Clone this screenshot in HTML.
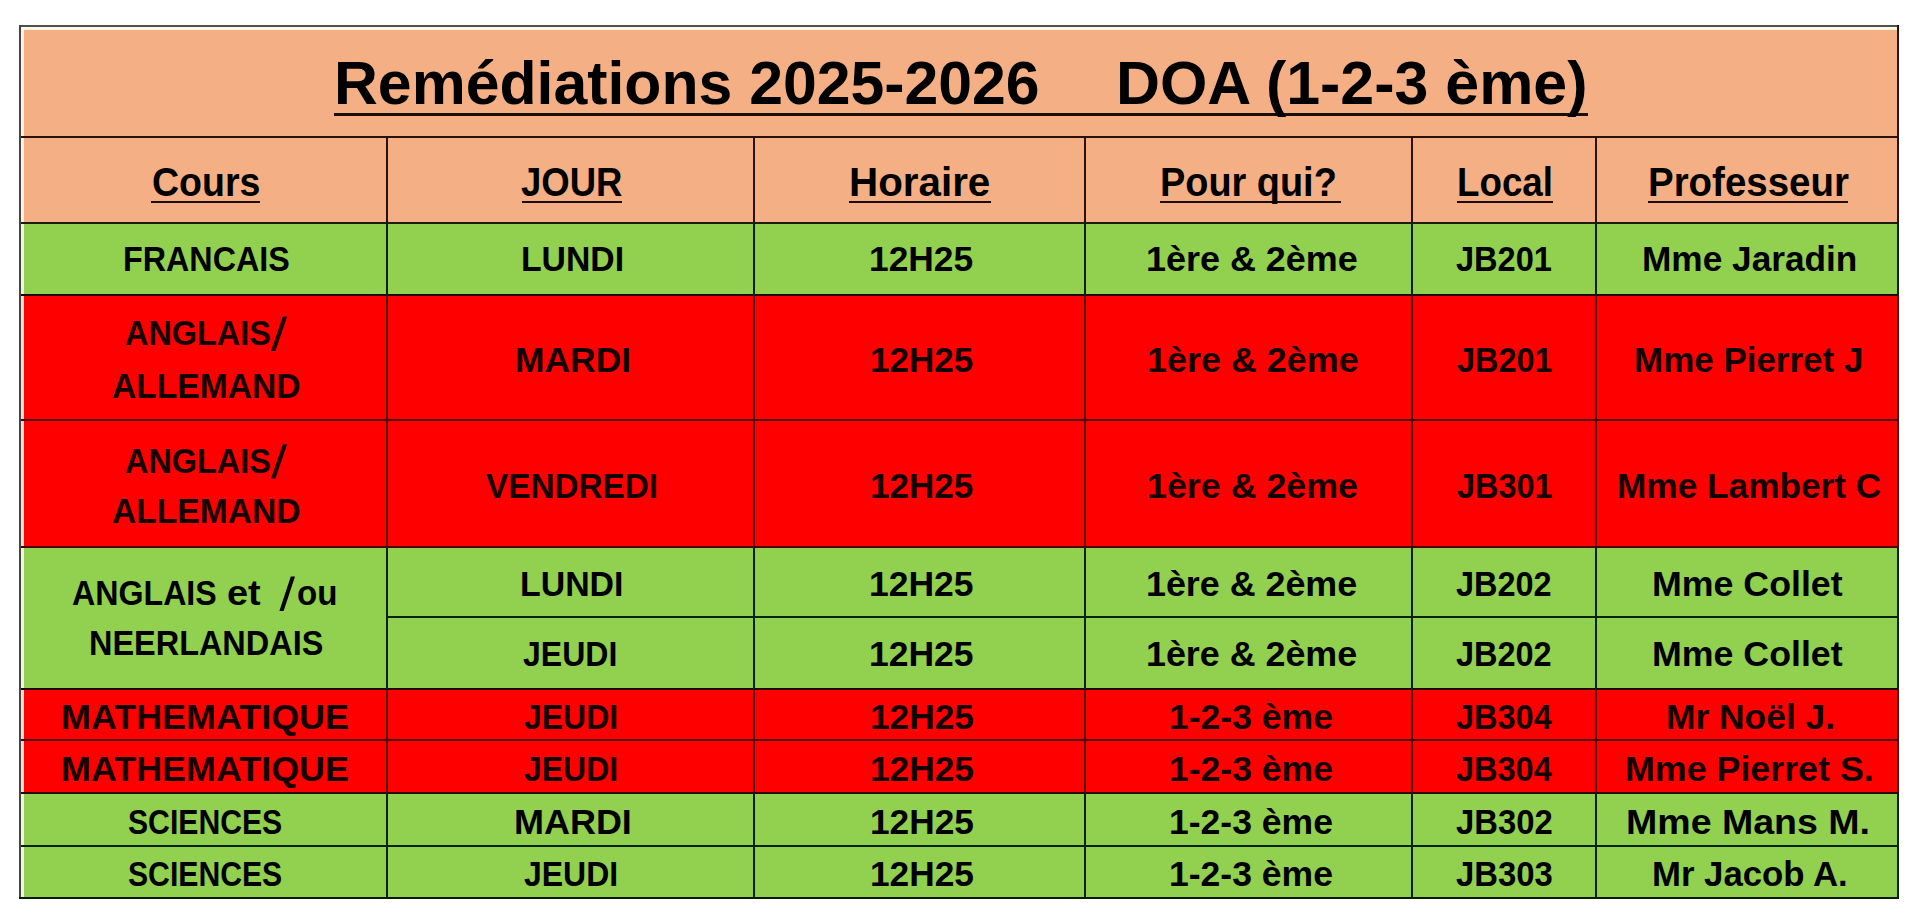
<!DOCTYPE html>
<html lang="fr"><head><meta charset="utf-8"><title>Remédiations 2025-2026 DOA</title>
<style>
html,body{margin:0;padding:0;background:#fff;width:1920px;height:920px;overflow:hidden}
.r{position:absolute}
.t{position:absolute;white-space:pre;line-height:1;font-family:"Liberation Sans",sans-serif;font-weight:bold;color:#000;transform-origin:0 0}
#wrap{position:absolute;left:0;top:0;width:1920px;height:920px;background:#fff;}
</style></head><body><div id="wrap">
<div class="r" style="left:20.00px;top:26.00px;width:1878.00px;height:111.00px;background:#F4B084"></div>
<div class="r" style="left:20.00px;top:137.00px;width:1878.00px;height:85.50px;background:#F4B084"></div>
<div class="r" style="left:20.00px;top:222.50px;width:1878.00px;height:72.00px;background:#92D050"></div>
<div class="r" style="left:20.00px;top:294.50px;width:1878.00px;height:125.50px;background:#FF0000"></div>
<div class="r" style="left:20.00px;top:420.00px;width:1878.00px;height:127.00px;background:#FF0000"></div>
<div class="r" style="left:20.00px;top:547.00px;width:1878.00px;height:141.50px;background:#92D050"></div>
<div class="r" style="left:20.00px;top:688.50px;width:1878.00px;height:51.50px;background:#FF0000"></div>
<div class="r" style="left:20.00px;top:740.00px;width:1878.00px;height:53.00px;background:#FF0000"></div>
<div class="r" style="left:20.00px;top:793.00px;width:1878.00px;height:52.50px;background:#92D050"></div>
<div class="r" style="left:20.00px;top:845.50px;width:1878.00px;height:52.00px;background:#92D050"></div>
<div class="r" style="left:21.00px;top:27.00px;width:1876.00px;height:2.60px;background:#FFF6E6"></div>
<div class="r" style="left:21.00px;top:27.00px;width:2.50px;height:869.50px;background:rgba(255,255,235,0.85)"></div>
<div class="r" style="left:20.00px;top:136.00px;width:1878.00px;height:2.00px;background:#2a1206"></div>
<div class="r" style="left:20.00px;top:221.50px;width:1878.00px;height:2.00px;background:#1a2008"></div>
<div class="r" style="left:20.00px;top:293.50px;width:1878.00px;height:2.00px;background:#200000"></div>
<div class="r" style="left:20.00px;top:419.00px;width:1878.00px;height:2.00px;background:#500000"></div>
<div class="r" style="left:20.00px;top:546.00px;width:1878.00px;height:2.00px;background:#4a0000"></div>
<div class="r" style="left:20.00px;top:687.50px;width:1878.00px;height:2.00px;background:#200000"></div>
<div class="r" style="left:20.00px;top:739.00px;width:1878.00px;height:2.00px;background:#500000"></div>
<div class="r" style="left:20.00px;top:792.00px;width:1878.00px;height:2.00px;background:#2a0800"></div>
<div class="r" style="left:20.00px;top:844.50px;width:1878.00px;height:2.00px;background:#0a2400"></div>
<div class="r" style="left:386.70px;top:616.00px;width:1511.30px;height:2.00px;background:#0a2400"></div>
<div class="r" style="left:385.70px;top:137.00px;width:2.00px;height:85.50px;background:#2a1206"></div>
<div class="r" style="left:385.70px;top:222.50px;width:2.00px;height:72.00px;background:#0a2400"></div>
<div class="r" style="left:385.70px;top:294.50px;width:2.00px;height:252.50px;background:#500000"></div>
<div class="r" style="left:385.70px;top:547.00px;width:2.00px;height:141.50px;background:#0a2400"></div>
<div class="r" style="left:385.70px;top:688.50px;width:2.00px;height:104.50px;background:#500000"></div>
<div class="r" style="left:385.70px;top:793.00px;width:2.00px;height:104.50px;background:#0a2400"></div>
<div class="r" style="left:752.50px;top:137.00px;width:2.00px;height:85.50px;background:#2a1206"></div>
<div class="r" style="left:752.50px;top:222.50px;width:2.00px;height:72.00px;background:#0a2400"></div>
<div class="r" style="left:752.50px;top:294.50px;width:2.00px;height:252.50px;background:#500000"></div>
<div class="r" style="left:752.50px;top:547.00px;width:2.00px;height:141.50px;background:#0a2400"></div>
<div class="r" style="left:752.50px;top:688.50px;width:2.00px;height:104.50px;background:#500000"></div>
<div class="r" style="left:752.50px;top:793.00px;width:2.00px;height:104.50px;background:#0a2400"></div>
<div class="r" style="left:1083.60px;top:137.00px;width:2.00px;height:85.50px;background:#2a1206"></div>
<div class="r" style="left:1083.60px;top:222.50px;width:2.00px;height:72.00px;background:#0a2400"></div>
<div class="r" style="left:1083.60px;top:294.50px;width:2.00px;height:252.50px;background:#500000"></div>
<div class="r" style="left:1083.60px;top:547.00px;width:2.00px;height:141.50px;background:#0a2400"></div>
<div class="r" style="left:1083.60px;top:688.50px;width:2.00px;height:104.50px;background:#500000"></div>
<div class="r" style="left:1083.60px;top:793.00px;width:2.00px;height:104.50px;background:#0a2400"></div>
<div class="r" style="left:1410.60px;top:137.00px;width:2.00px;height:85.50px;background:#2a1206"></div>
<div class="r" style="left:1410.60px;top:222.50px;width:2.00px;height:72.00px;background:#0a2400"></div>
<div class="r" style="left:1410.60px;top:294.50px;width:2.00px;height:252.50px;background:#500000"></div>
<div class="r" style="left:1410.60px;top:547.00px;width:2.00px;height:141.50px;background:#0a2400"></div>
<div class="r" style="left:1410.60px;top:688.50px;width:2.00px;height:104.50px;background:#500000"></div>
<div class="r" style="left:1410.60px;top:793.00px;width:2.00px;height:104.50px;background:#0a2400"></div>
<div class="r" style="left:1595.00px;top:137.00px;width:2.00px;height:85.50px;background:#2a1206"></div>
<div class="r" style="left:1595.00px;top:222.50px;width:2.00px;height:72.00px;background:#0a2400"></div>
<div class="r" style="left:1595.00px;top:294.50px;width:2.00px;height:252.50px;background:#500000"></div>
<div class="r" style="left:1595.00px;top:547.00px;width:2.00px;height:141.50px;background:#0a2400"></div>
<div class="r" style="left:1595.00px;top:688.50px;width:2.00px;height:104.50px;background:#500000"></div>
<div class="r" style="left:1595.00px;top:793.00px;width:2.00px;height:104.50px;background:#0a2400"></div>
<div class="r" style="left:19.00px;top:25.00px;width:1880.00px;height:2.00px;background:#505050"></div>
<div class="r" style="left:19.00px;top:25.00px;width:2.00px;height:873.50px;background:#454545"></div>
<div class="r" style="left:1897.00px;top:137.00px;width:2.00px;height:85.50px;background:#2a1206"></div>
<div class="r" style="left:1897.00px;top:222.50px;width:2.00px;height:72.00px;background:#0a2400"></div>
<div class="r" style="left:1897.00px;top:294.50px;width:2.00px;height:252.50px;background:#500000"></div>
<div class="r" style="left:1897.00px;top:547.00px;width:2.00px;height:141.50px;background:#0a2400"></div>
<div class="r" style="left:1897.00px;top:688.50px;width:2.00px;height:104.50px;background:#500000"></div>
<div class="r" style="left:1897.00px;top:793.00px;width:2.00px;height:104.50px;background:#0a2400"></div>
<div class="r" style="left:1897.00px;top:25.00px;width:2.00px;height:112.00px;background:#2a1206"></div>
<div class="r" style="left:19.00px;top:896.50px;width:1880.00px;height:2.00px;background:#0a1a00"></div>
<div class="r" style="left:333.70px;top:113.30px;width:1254.30px;height:3.20px;background:#1a0e05"></div>
<div class="r" style="left:151.30px;top:201.10px;width:108.30px;height:1.80px;background:#1a0e05"></div>
<div class="r" style="left:521.90px;top:201.10px;width:100.30px;height:1.80px;background:#1a0e05"></div>
<div class="r" style="left:849.00px;top:201.10px;width:141.80px;height:1.80px;background:#1a0e05"></div>
<div class="r" style="left:1159.90px;top:201.10px;width:181.10px;height:1.80px;background:#1a0e05"></div>
<div class="r" style="left:1456.80px;top:201.10px;width:95.90px;height:1.80px;background:#1a0e05"></div>
<div class="r" style="left:1648.00px;top:201.10px;width:200.00px;height:1.80px;background:#1a0e05"></div>
<svg class="r" style="left:0;top:0" width="1920" height="920" viewBox="0 0 1920 920"><polygon points="271.0,351.1 275.4,351.1 287.2,316.4 282.8,316.4" fill="#1a0000"/><polygon points="271.0,478.6 275.4,478.6 287.2,444.3 282.8,444.3" fill="#1a0000"/><polygon points="279.4,611.0 283.6,611.0 295.0,576.6 290.8,576.6" fill="#000"/></svg>
<span class="t" style="left:334.08px;top:51.50px;font-size:62.0px;transform:scaleX(0.9797)">Remédiations 2025-2026</span>
<span class="t" style="left:1115.57px;top:51.50px;font-size:62.0px;transform:scaleX(0.9820)">DOA (1-2-3 ème)</span>
<span class="t" style="left:151.67px;top:162.00px;font-size:41.1px;transform:scaleX(0.9130)">Cours</span>
<span class="t" style="left:521.01px;top:162.00px;font-size:41.1px;transform:scaleX(0.8884)">JOUR</span>
<span class="t" style="left:848.75px;top:162.00px;font-size:41.1px;transform:scaleX(0.9821)">Horaire</span>
<span class="t" style="left:1159.73px;top:162.00px;font-size:41.1px;transform:scaleX(0.9219)">Pour qui?</span>
<span class="t" style="left:1456.62px;top:162.00px;font-size:41.1px;transform:scaleX(0.8941)">Local</span>
<span class="t" style="left:1647.79px;top:162.00px;font-size:41.1px;transform:scaleX(0.9355)">Professeur</span>
<span class="t" style="left:122.54px;top:242.40px;font-size:34.7px;transform:scaleX(0.9307)">FRANCAIS</span>
<span class="t" style="left:520.75px;top:242.40px;font-size:34.7px;transform:scaleX(0.9725)">LUNDI</span>
<span class="t" style="left:869.46px;top:242.40px;font-size:34.7px;transform:scaleX(1.0182)">12H25</span>
<span class="t" style="left:1146.03px;top:242.40px;font-size:34.7px;transform:scaleX(1.0358)">1ère &amp; 2ème</span>
<span class="t" style="left:1455.96px;top:242.40px;font-size:34.7px;transform:scaleX(0.9380)">JB201</span>
<span class="t" style="left:1641.72px;top:242.40px;font-size:34.7px;transform:scaleX(1.0156)">Mme Jaradin</span>
<span class="t" style="left:124.77px;top:316.00px;font-size:34.7px;transform:scaleX(0.9344);color:#140000">ANGLAIS</span>
<span class="t" style="left:112.13px;top:368.50px;font-size:34.7px;transform:scaleX(0.9693);color:#140000">ALLEMAND</span>
<span class="t" style="left:514.76px;top:343.00px;font-size:34.7px;transform:scaleX(1.0211);color:#140000">MARDI</span>
<span class="t" style="left:870.28px;top:343.00px;font-size:34.7px;transform:scaleX(1.0101);color:#140000">12H25</span>
<span class="t" style="left:1146.68px;top:343.00px;font-size:34.7px;transform:scaleX(1.0356);color:#140000">1ère &amp; 2ème</span>
<span class="t" style="left:1456.67px;top:343.00px;font-size:34.7px;transform:scaleX(0.9340);color:#140000">JB201</span>
<span class="t" style="left:1634.18px;top:343.00px;font-size:34.7px;transform:scaleX(1.0081);color:#140000">Mme Pierret J</span>
<span class="t" style="left:124.77px;top:443.70px;font-size:34.7px;transform:scaleX(0.9344);color:#140000">ANGLAIS</span>
<span class="t" style="left:112.13px;top:493.90px;font-size:34.7px;transform:scaleX(0.9693);color:#140000">ALLEMAND</span>
<span class="t" style="left:486.10px;top:469.00px;font-size:34.7px;transform:scaleX(0.9599);color:#140000">VENDREDI</span>
<span class="t" style="left:870.28px;top:469.00px;font-size:34.7px;transform:scaleX(1.0101);color:#140000">12H25</span>
<span class="t" style="left:1146.69px;top:469.00px;font-size:34.7px;transform:scaleX(1.0323);color:#140000">1ère &amp; 2ème</span>
<span class="t" style="left:1456.67px;top:469.00px;font-size:34.7px;transform:scaleX(0.9340);color:#140000">JB301</span>
<span class="t" style="left:1616.72px;top:469.00px;font-size:34.7px;transform:scaleX(1.0154);color:#140000">Mme Lambert C</span>
<span class="t" style="left:71.87px;top:575.60px;font-size:34.7px;transform:scaleX(0.9273)">ANGLAIS</span>
<span class="t" style="left:227.31px;top:575.60px;font-size:34.7px;transform:scaleX(1.0931)">et</span>
<span class="t" style="left:296.85px;top:575.60px;font-size:34.7px;transform:scaleX(0.9538)">ou</span>
<span class="t" style="left:89.13px;top:626.20px;font-size:34.7px;transform:scaleX(0.9352)">NEERLANDAIS</span>
<span class="t" style="left:520.35px;top:567.40px;font-size:34.7px;transform:scaleX(0.9765)">LUNDI</span>
<span class="t" style="left:869.16px;top:567.40px;font-size:34.7px;transform:scaleX(1.0222)">12H25</span>
<span class="t" style="left:1145.93px;top:567.40px;font-size:34.7px;transform:scaleX(1.0328)">1ère &amp; 2ème</span>
<span class="t" style="left:1456.36px;top:567.40px;font-size:34.7px;transform:scaleX(0.9360)">JB202</span>
<span class="t" style="left:1651.64px;top:567.40px;font-size:34.7px;transform:scaleX(1.0301)">Mme Collet</span>
<span class="t" style="left:523.28px;top:636.70px;font-size:34.7px;transform:scaleX(0.9232)">JEUDI</span>
<span class="t" style="left:869.16px;top:636.70px;font-size:34.7px;transform:scaleX(1.0222)">12H25</span>
<span class="t" style="left:1145.93px;top:636.70px;font-size:34.7px;transform:scaleX(1.0328)">1ère &amp; 2ème</span>
<span class="t" style="left:1456.36px;top:636.70px;font-size:34.7px;transform:scaleX(0.9360)">JB202</span>
<span class="t" style="left:1651.64px;top:636.70px;font-size:34.7px;transform:scaleX(1.0301)">Mme Collet</span>
<span class="t" style="left:60.93px;top:699.60px;font-size:34.7px;transform:scaleX(1.0356);color:#140000">MATHEMATIQUE</span>
<span class="t" style="left:523.88px;top:699.60px;font-size:34.7px;transform:scaleX(0.9212);color:#140000">JEUDI</span>
<span class="t" style="left:869.87px;top:699.60px;font-size:34.7px;transform:scaleX(1.0162);color:#140000">12H25</span>
<span class="t" style="left:1168.65px;top:699.60px;font-size:34.7px;transform:scaleX(1.0242);color:#140000">1-2-3 ème</span>
<span class="t" style="left:1456.46px;top:699.60px;font-size:34.7px;transform:scaleX(0.9366);color:#140000">JB304</span>
<span class="t" style="left:1665.56px;top:699.60px;font-size:34.7px;transform:scaleX(1.0198);color:#140000">Mr Noël J.</span>
<span class="t" style="left:60.93px;top:751.70px;font-size:34.7px;transform:scaleX(1.0356);color:#140000">MATHEMATIQUE</span>
<span class="t" style="left:523.88px;top:751.70px;font-size:34.7px;transform:scaleX(0.9212);color:#140000">JEUDI</span>
<span class="t" style="left:869.87px;top:751.70px;font-size:34.7px;transform:scaleX(1.0162);color:#140000">12H25</span>
<span class="t" style="left:1168.65px;top:751.70px;font-size:34.7px;transform:scaleX(1.0242);color:#140000">1-2-3 ème</span>
<span class="t" style="left:1456.46px;top:751.70px;font-size:34.7px;transform:scaleX(0.9366);color:#140000">JB304</span>
<span class="t" style="left:1625.34px;top:751.70px;font-size:34.7px;transform:scaleX(1.0321);color:#140000">Mme Pierret S.</span>
<span class="t" style="left:128.43px;top:804.60px;font-size:34.7px;transform:scaleX(0.8697)">SCIENCES</span>
<span class="t" style="left:513.93px;top:804.60px;font-size:34.7px;transform:scaleX(1.0367)">MARDI</span>
<span class="t" style="left:869.87px;top:804.60px;font-size:34.7px;transform:scaleX(1.0162)">12H25</span>
<span class="t" style="left:1168.65px;top:804.60px;font-size:34.7px;transform:scaleX(1.0242)">1-2-3 ème</span>
<span class="t" style="left:1456.45px;top:804.60px;font-size:34.7px;transform:scaleX(0.9460)">JB302</span>
<span class="t" style="left:1626.34px;top:804.60px;font-size:34.7px;transform:scaleX(1.0819)">Mme Mans M.</span>
<span class="t" style="left:128.43px;top:856.70px;font-size:34.7px;transform:scaleX(0.8697)">SCIENCES</span>
<span class="t" style="left:523.88px;top:856.70px;font-size:34.7px;transform:scaleX(0.9212)">JEUDI</span>
<span class="t" style="left:869.87px;top:856.70px;font-size:34.7px;transform:scaleX(1.0162)">12H25</span>
<span class="t" style="left:1168.65px;top:856.70px;font-size:34.7px;transform:scaleX(1.0242)">1-2-3 ème</span>
<span class="t" style="left:1456.45px;top:856.70px;font-size:34.7px;transform:scaleX(0.9460)">JB303</span>
<span class="t" style="left:1651.50px;top:856.70px;font-size:34.7px;transform:scaleX(1.0016)">Mr Jacob A.</span>
</div></body></html>
